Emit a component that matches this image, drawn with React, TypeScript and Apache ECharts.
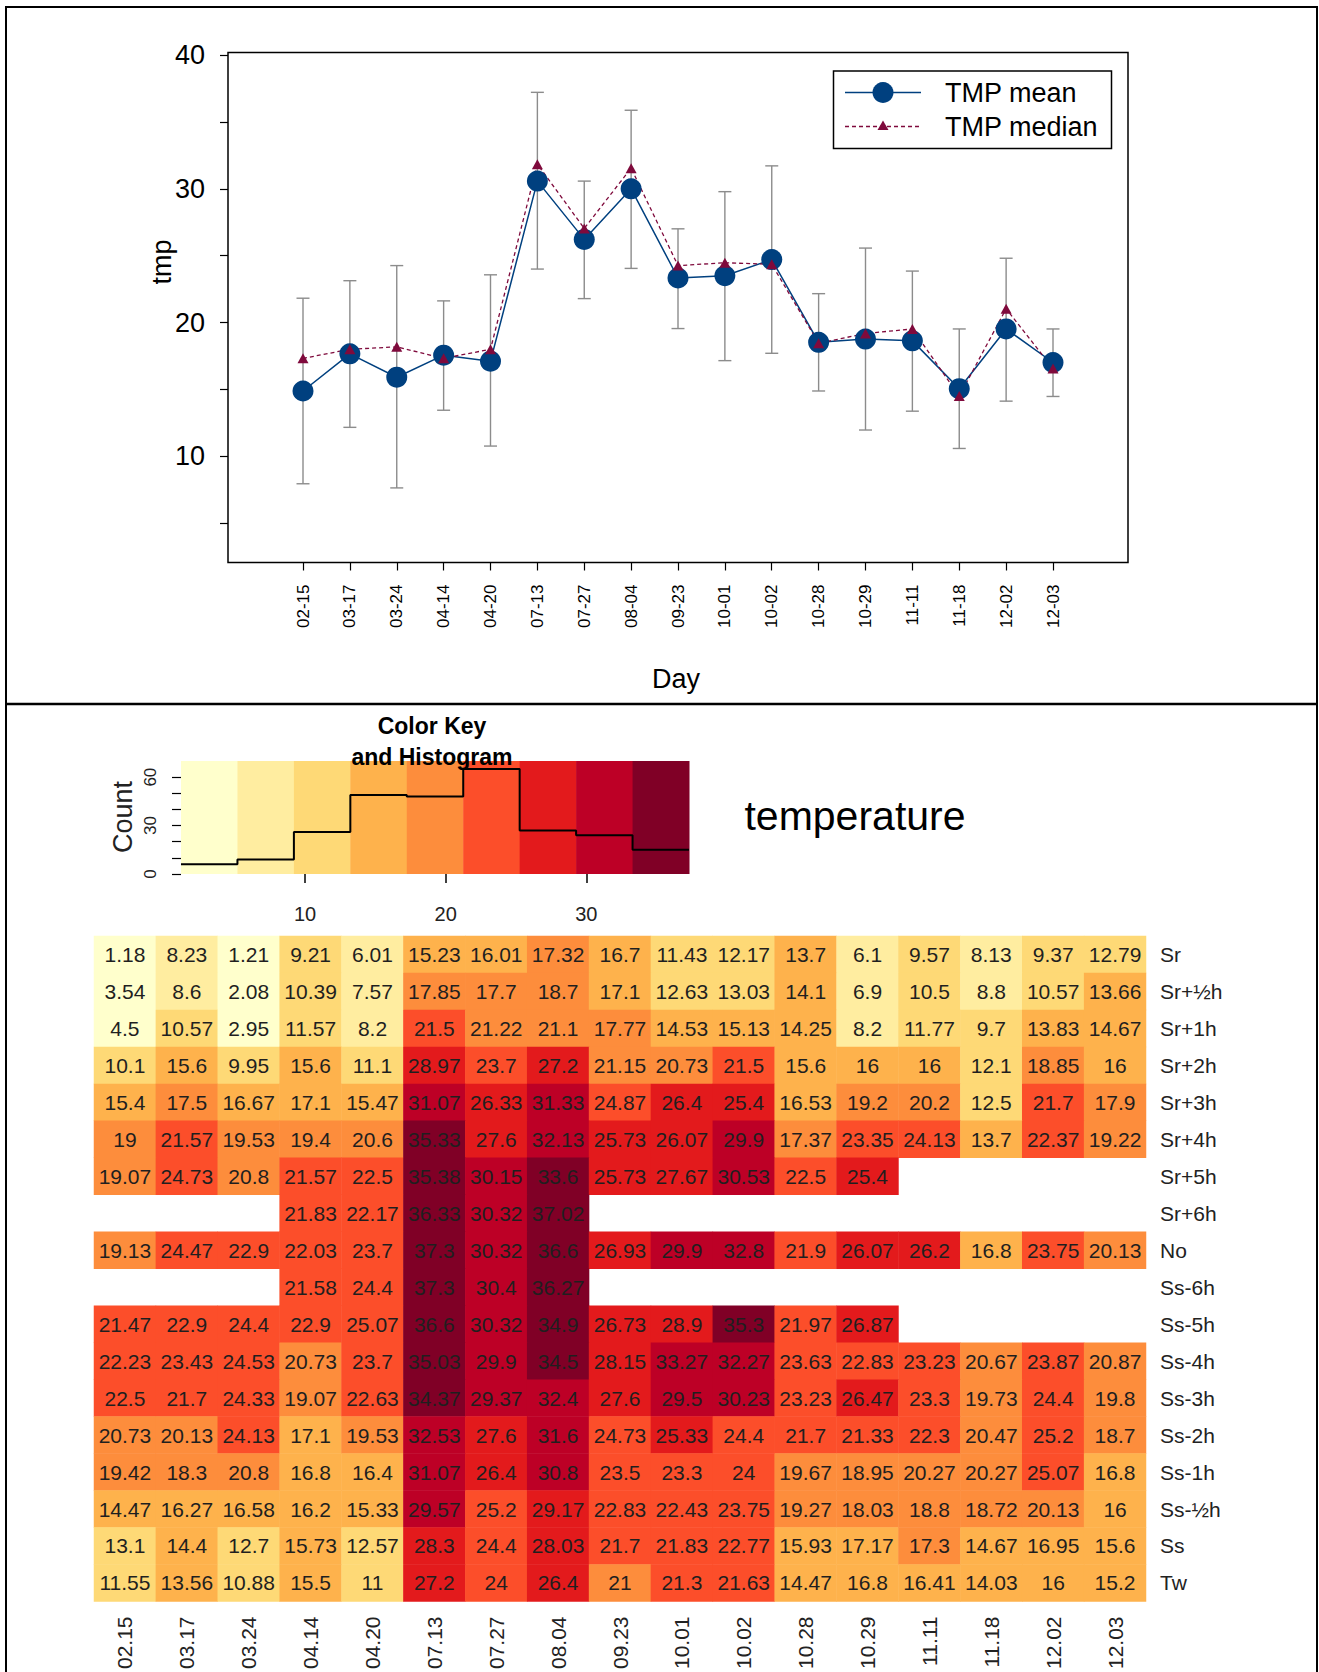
import React, { useEffect, useRef } from "react";
import * as echarts from "echarts";

// ---------- Top chart data ----------
const days = ["02-15","03-17","03-24","04-14","04-20","07-13","07-27","08-04","09-23","10-01","10-02","10-28","10-29","11-11","11-18","12-02","12-03"];
const tmpMean = [14.88,17.66,15.91,17.56,17.11,30.58,26.22,30.0,23.33,23.5,24.71,18.52,18.76,18.63,15.05,19.52,17.01];
const tmpMedian = [17.32,18.0,18.18,17.32,18.0,31.85,27.04,31.55,24.26,24.47,24.36,18.45,19.18,19.52,14.5,21.03,16.56];
const errHigh = [21.82,23.13,24.26,21.62,23.57,37.22,30.58,35.88,27.01,29.79,31.72,22.16,25.57,23.85,19.52,24.81,19.52];
const errLow = [7.94,12.16,7.63,13.44,10.76,24.0,21.79,24.05,19.55,17.15,17.7,14.88,11.96,13.37,10.58,14.12,14.47];
const yTicks = [5,10,15,20,25,30,35,40];
const yLabels = [10,20,30,40];

// ---------- Heatmap data ----------
const cols = ["02.15","03.17","03.24","04.14","04.20","07.13","07.27","08.04","09.23","10.01","10.02","10.28","10.29","11.11","11.18","12.02","12.03"];
const rows = ["Sr","Sr+½h","Sr+1h","Sr+2h","Sr+3h","Sr+4h","Sr+5h","Sr+6h","No","Ss-6h","Ss-5h","Ss-4h","Ss-3h","Ss-2h","Ss-1h","Ss-½h","Ss","Tw"];
const N = null;
const rowSr    = [1.18,8.23,1.21,9.21,6.01,15.23,16.01,17.32,16.7,11.43,12.17,13.7,6.1,9.57,8.13,9.37,12.79];
const rowSr05  = [3.54,8.6,2.08,10.39,7.57,17.85,17.7,18.7,17.1,12.63,13.03,14.1,6.9,10.5,8.8,10.57,13.66];
const rowSr1   = [4.5,10.57,2.95,11.57,8.2,21.5,21.22,21.1,17.77,14.53,15.13,14.25,8.2,11.77,9.7,13.83,14.67];
const rowSr2   = [10.1,15.6,9.95,15.6,11.1,28.97,23.7,27.2,21.15,20.73,21.5,15.6,16,16,12.1,18.85,16];
const rowSr3   = [15.4,17.5,16.67,17.1,15.47,31.07,26.33,31.33,24.87,26.4,25.4,16.53,19.2,20.2,12.5,21.7,17.9];
const rowSr4   = [19,21.57,19.53,19.4,20.6,35.33,27.6,32.13,25.73,26.07,29.9,17.37,23.35,24.13,13.7,22.37,19.22];
const rowSr5   = [19.07,24.73,20.8,21.57,22.5,35.38,30.15,33.6,25.73,27.67,30.53,22.5,25.4,N,N,N,N];
const rowSr6   = [N,N,N,21.83,22.17,36.33,30.32,37.02,N,N,N,N,N,N,N,N,N];
const rowNo    = [19.13,24.47,22.9,22.03,23.7,37.3,30.32,36.6,26.93,29.9,32.8,21.9,26.07,26.2,16.8,23.75,20.13];
const rowSs6   = [N,N,N,21.58,24.4,37.3,30.4,36.27,N,N,N,N,N,N,N,N,N];
const rowSs5   = [21.47,22.9,24.4,22.9,25.07,36.6,30.32,34.9,26.73,28.9,35.3,21.97,26.87,N,N,N,N];
const rowSs4   = [22.23,23.43,24.53,20.73,23.7,35.03,29.9,34.5,28.15,33.27,32.27,23.63,22.83,23.23,20.67,23.87,20.87];
const rowSs3   = [22.5,21.7,24.33,19.07,22.63,34.37,29.37,32.4,27.6,29.5,30.23,23.23,26.47,23.3,19.73,24.4,19.8];
const rowSs2   = [20.73,20.13,24.13,17.1,19.53,32.53,27.6,31.6,24.73,25.33,24.4,21.7,21.33,22.3,20.47,25.2,18.7];
const rowSs1   = [19.42,18.3,20.8,16.8,16.4,31.07,26.4,30.8,23.5,23.3,24,19.67,18.95,20.27,20.27,25.07,16.8];
const rowSs05  = [14.47,16.27,16.58,16.2,15.33,29.57,25.2,29.17,22.83,22.43,23.75,19.27,18.03,18.8,18.72,20.13,16];
const rowSs    = [13.1,14.4,12.7,15.73,12.57,28.3,24.4,28.03,21.7,21.83,22.77,15.93,17.17,17.3,14.67,16.95,15.6];
const rowTw    = [11.55,13.56,10.88,15.5,11,27.2,24,26.4,21,21.3,21.63,14.47,16.8,16.41,14.03,16,15.2];
const tempRows = [rowSr,rowSr05,rowSr1,rowSr2,rowSr3,rowSr4,rowSr5,rowSr6,rowNo,rowSs6,rowSs5,rowSs4,rowSs3,rowSs2,rowSs1,rowSs05,rowSs,rowTw];

// ---------- Color key ----------
const keyBreaks = [1.18,5.193,9.207,13.22,17.233,21.247,25.26,29.273,33.287,37.3];
const keyColors = ["#FFFFCC","#FFEDA0","#FED976","#FEB24C","#FD8D3C","#FC4E2A","#E31A1C","#BD0026","#800026"];
const histCounts = [6,9,26,49,48,65,27,24,15];
const keyXTicks = [10,20,30];
const keyYTicks = [0,10,20,30,40,50,60];
const keyYLabels = [0,30,60];

const FONT = "'Liberation Sans', Arial, sans-serif";
const NAVY = "#00407F";
const WINE = "#7F0A3C";
const GREY = "#8C8C8C";

export default function App() {
  const ref = useRef<HTMLDivElement>(null);
  useEffect(() => {
    if (!ref.current) return;
    const chart = echarts.init(ref.current, null, { renderer: "svg" });

    const heatData: any[] = [];
    tempRows.forEach((r, ri) => r.forEach((v, ci) => { if (v !== null) heatData.push([ci, ri, v]); }));
    const pieces = keyColors.map((c, i) => i < keyColors.length - 1
      ? { gte: keyBreaks[i], lt: keyBreaks[i + 1], color: c }
      : { gte: keyBreaks[i], lte: keyBreaks[i + 1], color: c });
    const keyRects = keyColors.map((c, i) => [keyBreaks[i], keyBreaks[i + 1], i]);
    const stepData = keyBreaks.map((b, i) => [b, histCounts[Math.min(i, histCounts.length - 1)]]);

    const option: any = {
      animation: false,
      textStyle: { fontFamily: FONT },
      grid: [
        { left: 228, top: 52.5, width: 900, height: 510, show: true, borderColor: "#000", borderWidth: 1.5, backgroundColor: "transparent" },
        { left: 94, top: 936, width: 1052, height: 670 },
        { left: 181, top: 761, width: 508, height: 113 },
      ],
      xAxis: [
        {
          gridIndex: 0, type: "value", min: -1.6, max: 17.6,
          axisLine: { show: false, onZero: false }, splitLine: { show: false },
          axisTick: { show: true, customValues: days.map((_, i) => i), length: 8, lineStyle: { color: "#000", width: 1.2 } },
          axisLabel: { customValues: days.map((_, i) => i), formatter: (v: number) => days[Math.round(v)] ?? "", rotate: 90, fontSize: 17, color: "#000", margin: 22, fontFamily: FONT },
        },
        {
          gridIndex: 1, type: "category", data: cols,
          axisLine: { show: false, onZero: false }, axisTick: { show: false }, splitLine: { show: false },
          axisLabel: { rotate: 90, fontSize: 21, color: "#222", margin: 15, interval: 0, fontFamily: FONT },
        },
        {
          gridIndex: 2, type: "value", min: keyBreaks[0], max: keyBreaks[keyBreaks.length - 1],
          axisLine: { show: false, onZero: false }, splitLine: { show: false },
          axisTick: { show: true, customValues: keyXTicks, length: 9, lineStyle: { color: "#000", width: 1.5 } },
          axisLabel: { customValues: keyXTicks, fontSize: 20, color: "#222", margin: 30, fontFamily: FONT },
        },
      ],
      yAxis: [
        {
          gridIndex: 0, type: "value", min: 2.05, max: 40.2,
          axisLine: { show: false, onZero: false }, splitLine: { show: false },
          axisTick: { show: true, customValues: yTicks, length: 8, lineStyle: { color: "#000", width: 1.2 } },
          axisLabel: { customValues: yLabels, fontSize: 27, color: "#000", margin: 23, fontFamily: FONT },
        },
        {
          gridIndex: 1, type: "category", data: rows, inverse: true, position: "right",
          axisLine: { show: false, onZero: false }, axisTick: { show: false }, splitLine: { show: false },
          axisLabel: { fontSize: 21, color: "#222", margin: 14, interval: 0, fontFamily: FONT },
        },
        {
          gridIndex: 2, type: "value", min: 0, max: 70,
          axisLine: { show: false, onZero: false }, splitLine: { show: false },
          axisTick: { show: true, customValues: keyYTicks, length: 9, lineStyle: { color: "#000", width: 1.2 } },
          axisLabel: { customValues: keyYLabels, rotate: 90, fontSize: 17, color: "#222", margin: 22, fontFamily: FONT },
        },
      ],
      visualMap: [{ type: "piecewise", show: false, seriesIndex: 3, dimension: 2, pieces }],
      series: [
        {
          type: "custom", xAxisIndex: 0, yAxisIndex: 0,
          data: days.map((_, i) => [i, errLow[i], errHigh[i]]),
          encode: { x: 0, y: [1, 2] },
          renderItem: (params: any, api: any) => {
            const x = api.value(0);
            const lo = api.coord([x, api.value(1)]);
            const hi = api.coord([x, api.value(2)]);
            const w = 6.5;
            const st = { stroke: GREY, lineWidth: 1.4 };
            return {
              type: "group",
              children: [
                { type: "line", shape: { x1: lo[0], y1: lo[1], x2: hi[0], y2: hi[1] }, style: st },
                { type: "line", shape: { x1: lo[0] - w, y1: lo[1], x2: lo[0] + w, y2: lo[1] }, style: st },
                { type: "line", shape: { x1: hi[0] - w, y1: hi[1], x2: hi[0] + w, y2: hi[1] }, style: st },
              ],
            };
          },
        },
        {
          type: "line", xAxisIndex: 0, yAxisIndex: 0, name: "TMP mean",
          data: days.map((_, i) => [i, tmpMean[i]]),
          symbol: "circle", symbolSize: 21,
          lineStyle: { color: NAVY, width: 1.5 }, itemStyle: { color: NAVY },
        },
        {
          type: "line", xAxisIndex: 0, yAxisIndex: 0, name: "TMP median",
          data: days.map((_, i) => [i, tmpMedian[i]]),
          symbol: "triangle", symbolSize: [11, 10],
          lineStyle: { color: WINE, width: 1.3, type: [4, 3] }, itemStyle: { color: WINE },
        },
        {
          type: "heatmap", xAxisIndex: 1, yAxisIndex: 1, data: heatData,
          label: { show: true, formatter: (p: any) => String(p.value[2]), fontSize: 21, color: "#1f1f1f", fontFamily: FONT },
          itemStyle: { borderWidth: 0 },
          emphasis: { disabled: true },
        },
        {
          type: "custom", xAxisIndex: 2, yAxisIndex: 2, data: keyRects,
          encode: { x: [0, 1] },
          renderItem: (params: any, api: any) => {
            const p0 = api.coord([api.value(0), 70]);
            const p1 = api.coord([api.value(1), 0]);
            return { type: "rect", shape: { x: p0[0], y: p0[1], width: p1[0] - p0[0] + 0.5, height: p1[1] - p0[1] }, style: { fill: keyColors[params.dataIndex] } };
          },
        },
        {
          type: "line", xAxisIndex: 2, yAxisIndex: 2, data: stepData, step: "end",
          symbol: "none", lineStyle: { color: "#000", width: 2 },
        },
      ],
      graphic: [
        // outer frame and divider
        { type: "rect", shape: { x: 6, y: 7, width: 1311, height: 1700 }, style: { fill: "none", stroke: "#000", lineWidth: 2 }, z: 100 },
        { type: "line", shape: { x1: 6, y1: 704, x2: 1317, y2: 704 }, style: { stroke: "#000", lineWidth: 2.5 }, z: 100 },
        // top chart titles
        { type: "text", x: 676, y: 679, style: { text: "Day", font: `27px ${FONT}`, fill: "#000", align: "center", verticalAlign: "middle" } },
        { type: "text", x: 161.5, y: 262, rotation: Math.PI / 2, style: { text: "tmp", font: `27px ${FONT}`, fill: "#000", align: "center", verticalAlign: "middle" } },
        // legend
        { type: "rect", shape: { x: 833.5, y: 71, width: 278, height: 77.5 }, style: { fill: "#fff", stroke: "#000", lineWidth: 1.5 }, z: 50 },
        { type: "line", shape: { x1: 845, y1: 92.5, x2: 921, y2: 92.5 }, style: { stroke: NAVY, lineWidth: 1.5 }, z: 51 },
        { type: "circle", shape: { cx: 883, cy: 92.5, r: 10.5 }, style: { fill: NAVY }, z: 52 },
        { type: "line", shape: { x1: 845, y1: 126.5, x2: 921, y2: 126.5 }, style: { stroke: WINE, lineWidth: 1.3, lineDash: [4, 3] }, z: 51 },
        { type: "polygon", shape: { points: [[883, 120.5], [877.5, 130], [888.5, 130]] }, style: { fill: WINE }, z: 52 },
        { type: "text", x: 945, y: 93, style: { text: "TMP mean", font: `27px ${FONT}`, fill: "#000", verticalAlign: "middle" }, z: 52 },
        { type: "text", x: 945, y: 127, style: { text: "TMP median", font: `27px ${FONT}`, fill: "#000", verticalAlign: "middle" }, z: 52 },
        // color key titles
        { type: "text", x: 432, y: 726, style: { text: "Color Key", font: `bold 23px ${FONT}`, fill: "#000", align: "center", verticalAlign: "middle" }, z: 60 },
        { type: "text", x: 432, y: 757, style: { text: "and Histogram", font: `bold 23px ${FONT}`, fill: "#000", align: "center", verticalAlign: "middle" }, z: 60 },
        { type: "text", x: 123, y: 817, rotation: Math.PI / 2, style: { text: "Count", font: `27px ${FONT}`, fill: "#222", align: "center", verticalAlign: "middle" } },
        { type: "text", x: 855, y: 816, style: { text: "temperature", font: `41px ${FONT}`, fill: "#000", align: "center", verticalAlign: "middle" } },
      ],
    };
    chart.setOption(option);
    return () => chart.dispose();
  }, []);
  return <div ref={ref} style={{ position: "absolute", left: 0, top: 0, width: 1319, height: 1672, background: "#fff" }} />;
}
